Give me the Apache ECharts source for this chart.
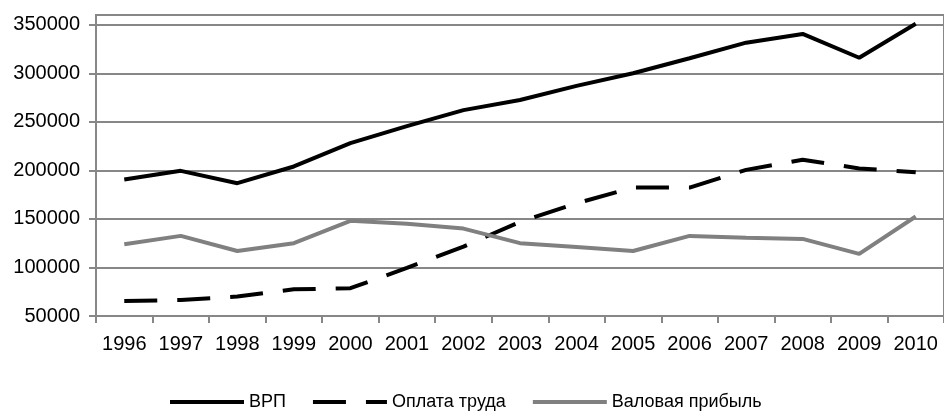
<!DOCTYPE html>
<html>
<head>
<meta charset="utf-8">
<script src="https://cdn.jsdelivr.net/npm/echarts@6/dist/echarts.min.js"></script>
<style>
  html, body { margin: 0; padding: 0; background: #fff; }
  #chart { width: 944px; height: 416px; }
</style>
</head>
<body>
<div id="chart"></div>
<script>
var years = ['1996','1997','1998','1999','2000','2001','2002','2003','2004','2005','2006','2007','2008','2009','2010'];
var vrp = [190500, 199500, 186800, 204000, 228000, 245500, 262000, 272500, 287000, 300000, 315500, 331500, 340500, 316000, 351000];
var oplata = [65500, 66500, 70000, 77500, 78600, 99500, 121500, 147000, 166000, 182300, 182300, 200500, 211000, 202000, 198000];
var pribyl = [124000, 132500, 117000, 125000, 148000, 145000, 140000, 125000, 121000, 117000, 132500, 130700, 129400, 114000, 152500];
var yTicks = [50000, 100000, 150000, 200000, 250000, 300000, 350000];

var chart = echarts.init(document.getElementById('chart'));

var gridColor = '#878787';
var dash = [33, 20];

option = {
    animation: false,
    textStyle: { fontFamily: 'Liberation Sans, Arial, sans-serif' },
    legend: {
        left: 163,
        top: 388,
        itemWidth: 74,
        itemHeight: 2,
        itemGap: 25,
        lineStyle: { width: 4 },
        itemStyle: { opacity: 0 },
        textStyle: { fontSize: 18, color: '#000' },
        data: [
            { name: 'ВРП' },
            { name: 'Оплата труда', lineStyle: { width: 4, type: dash } },
            { name: 'Валовая прибыль' }
        ]
    },
    grid: {
        left: 96,
        top: 15,
        width: 849,
        height: 301,
        show: true,
        borderColor: gridColor,
        borderWidth: 2
    },
    xAxis: {
        type: 'category',
        data: years,
        boundaryGap: true,
        axisLine: { lineStyle: { color: gridColor, width: 2 } },
        axisTick: { show: true, length: 7, lineStyle: { color: gridColor, width: 2 } },
        axisLabel: { fontSize: 20, color: '#000', margin: 18, interval: 0 }
    },
    yAxis: {
        type: 'value',
        min: 50000,
        max: 360000,
        interval: 50000,
        axisLine: { show: true, lineStyle: { color: gridColor, width: 2 } },
        axisTick: { show: true, length: 7, customValues: yTicks, lineStyle: { color: gridColor, width: 2 } },
        axisLabel: {
            fontSize: 20, color: '#000', margin: 16, customValues: yTicks,
            formatter: function (v) { return String(v); }
        },
        splitLine: { lineStyle: { color: gridColor, width: 2 } }
    },
    series: [
        {
            name: 'ВРП',
            type: 'line',
            data: vrp,
            symbol: 'none',
            lineStyle: { color: '#000', width: 4 },
            itemStyle: { color: '#000' }
        },
        {
            name: 'Оплата труда',
            type: 'line',
            data: oplata,
            symbol: 'none',
            lineStyle: { color: '#000', width: 4, type: dash },
            itemStyle: { color: '#000' }
        },
        {
            name: 'Валовая прибыль',
            type: 'line',
            data: pribyl,
            symbol: 'none',
            lineStyle: { color: '#808080', width: 4 },
            itemStyle: { color: '#808080' }
        }
    ]
};

chart.setOption(option);
</script>
</body>
</html>
